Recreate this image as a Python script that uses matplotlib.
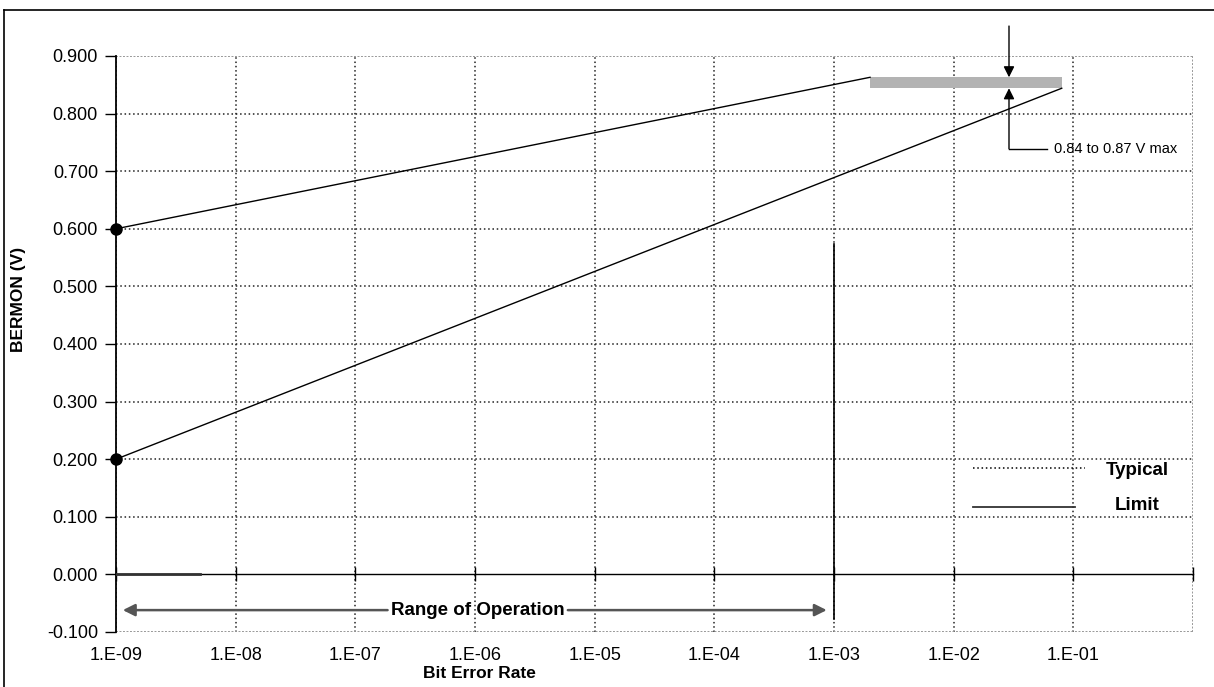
import matplotlib
matplotlib.use("Agg")
import matplotlib.pyplot as plt
from matplotlib.lines import Line2D
from matplotlib.ticker import FixedLocator, FixedFormatter, FormatStrFormatter

plt.rcParams['font.family'] = ['Liberation Sans', 'DejaVu Sans']

# ---- data ----
ber_upper = [1e-9, 2.0e-3]
bermon_upper = [0.600, 0.863]
ber_lower = [1e-9, 8.0e-2]
bermon_lower = [0.200, 0.844]
ber_band = [2.0e-3, 8.0e-2]
band_low, band_high = 0.844, 0.863
marker_ber = [1e-9, 1e-9]
marker_bermon = [0.600, 0.200]
ber_op_limit = 1e-3
op_line_top = 0.574
zero_seg_ber = [1e-9, 5e-9]
x_ticks = [1e-9, 1e-8, 1e-7, 1e-6, 1e-5, 1e-4, 1e-3, 1e-2, 1e-1, 1e0]
x_labels = ['1.E-09', '1.E-08', '1.E-07', '1.E-06', '1.E-05', '1.E-04',
            '1.E-03', '1.E-02', '1.E-01', '']
y_ticks = [-0.1, 0.0, 0.1, 0.2, 0.3, 0.4, 0.5, 0.6, 0.7, 0.8, 0.9]
range_left, range_right = 1.14e-9, 8.7e-4
range_text_left, range_text_right = 1.86e-7, 5.97e-6
range_text_x, range_y = 1.05e-6, -0.062
note_x, note_top, note_bottom, note_elbow_x = 2.9e-2, 0.952, 0.739, 6.0e-2
note_text_x = 6.9e-2

fig = plt.figure(figsize=(12.14, 6.87), dpi=100)
ax = fig.add_axes([0.09555, 0.08006, 0.88715, 0.83843])
ax.set_xscale('log')
ax.set_xlim(1e-9, 1e0)
ax.set_ylim(-0.1, 0.9)

# ticks
ax.xaxis.set_major_locator(FixedLocator(x_ticks))
ax.xaxis.set_major_formatter(FixedFormatter(x_labels))
ax.xaxis.set_minor_locator(FixedLocator([]))
ax.set_yticks(y_ticks)
ax.yaxis.set_major_formatter(FormatStrFormatter('%.3f'))
ax.tick_params(axis='x', direction='inout', length=10, width=1, pad=47, labelsize=13)
ax.tick_params(axis='y', direction='out', length=8, width=1, pad=5, labelsize=13)

# spines
ax.spines['bottom'].set_position(('data', 0))
ax.spines['bottom'].set_linewidth(1)
ax.spines['left'].set_linewidth(1.3)
for s in ['top', 'right']:
    ax.spines[s].set_visible(False)

# grid
ax.grid(True, which='major', color='#222222', linestyle=(0, (1, 1.8)), linewidth=1.1)
for i, gl in enumerate(ax.get_xgridlines()):
    if i == len(x_ticks) - 1:
        gl.set_color('#999999'); gl.set_linestyle((0, (1, 0.8))); gl.set_linewidth(1.4)
for i, gl in enumerate(ax.get_ygridlines()):
    if i == 0 or i == len(y_ticks) - 1:
        gl.set_color('#999999'); gl.set_linestyle((0, (1, 0.8))); gl.set_linewidth(1.4)
    if y_ticks[i] == 0.0:
        gl.set_visible(False)

# data lines
ax.plot(ber_upper, bermon_upper, color='black', lw=1.0, zorder=3)
ax.plot(ber_lower, bermon_lower, color='black', lw=1.0, zorder=3)
ax.fill_between(ber_band, band_low, band_high, color='#b3b3b3', lw=0, zorder=2)
ax.plot(marker_ber, marker_bermon, 'o', color='black', ms=8, clip_on=False, zorder=4)
ax.plot(zero_seg_ber, [0, 0], color='#333333', lw=2, zorder=3)
ax.plot([ber_op_limit, ber_op_limit], [-0.078, op_line_top], color='black', lw=1.2, zorder=3)

# range of operation
ax.text(range_text_x, range_y, 'Range of Operation', ha='center', va='center',
        fontsize=13.5, fontweight='bold')
arrow_kw = dict(arrowstyle='-|>', mutation_scale=18, color='#555555', lw=1.8,
                shrinkA=0, shrinkB=0)
ax.annotate('', xy=(range_left, range_y), xytext=(range_text_left, range_y), arrowprops=arrow_kw)
ax.annotate('', xy=(range_right, range_y), xytext=(range_text_right, range_y), arrowprops=arrow_kw)

# band annotation
arrow_kw2 = dict(arrowstyle='-|>', mutation_scale=16, color='black', lw=1.0,
                 shrinkA=0, shrinkB=0)
ax.annotate('', xy=(note_x, band_high), xytext=(note_x, note_top), arrowprops=arrow_kw2,
            annotation_clip=False)
ax.annotate('', xy=(note_x, band_low), xytext=(note_x, note_bottom), arrowprops=arrow_kw2)
ax.plot([note_x, note_elbow_x], [note_bottom, note_bottom], color='black', lw=1.0)
ax.text(note_text_x, note_bottom, '0.84 to 0.87 V max', ha='left', va='center', fontsize=10.5)

# legend (manual)
ax.plot([0.796, 0.900], [0.285, 0.285], transform=ax.transAxes, color='black',
        linestyle=(0, (1, 1.8)), lw=1.1)
ax.plot([0.796, 0.890], [0.217, 0.217], transform=ax.transAxes, color='#333333', lw=1.3)
ax.text(0.948, 0.280, 'Typical', transform=ax.transAxes, ha='center', va='center',
        fontsize=13.5, fontweight='bold')
ax.text(0.948, 0.219, 'Limit', transform=ax.transAxes, ha='center', va='center',
        fontsize=13.5, fontweight='bold')

# axis labels
ax.set_xlabel('Bit Error Rate', fontsize=12.5, fontweight='bold')
ax.xaxis.set_label_coords(0.337, -0.0595)
ax.set_ylabel('BERMON (V)', fontsize=12.5, fontweight='bold')
ax.yaxis.set_label_coords(-0.0835, 0.578)

# outer border (left & top)
fig.add_artist(Line2D([4/1214, 4/1214], [0, 1 - 10/687], transform=fig.transFigure,
                      color='black', lw=1.2))
fig.add_artist(Line2D([4/1214, 1], [1 - 10/687, 1 - 10/687], transform=fig.transFigure,
                      color='black', lw=1.2))

fig.savefig('out.png', dpi=100)
